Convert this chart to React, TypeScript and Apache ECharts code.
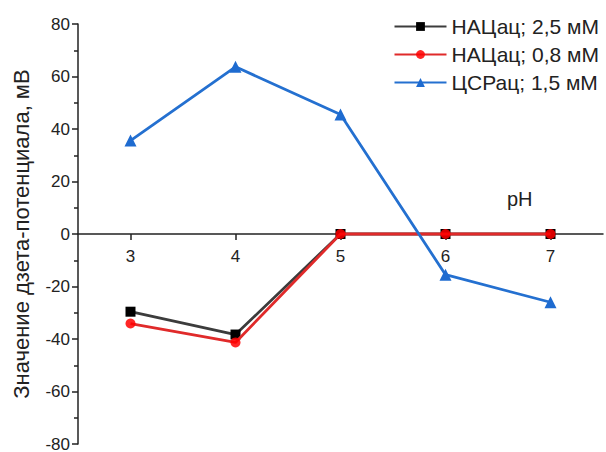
import React, { useEffect, useRef } from "react";
import * as echarts from "echarts";

const phValues = [3, 4, 5, 6, 7];
const seriesNames = ["НАЦац; 2,5 мМ", "НАЦац; 0,8 мМ", "ЦСРац; 1,5 мМ"];
const nac25 = [-29.6, -38.3, 0, 0, 0];
const nac08 = [-34.1, -41.3, 0, 0, 0];
const csr15 = [35.6, 63.7, 45.5, -15.5, -26];

const FONT = "Liberation Sans, Arial, sans-serif";
const GRID_TOP = 24;
const GRID_BOTTOM = 8;
const PLOT_H = 452 - GRID_TOP - GRID_BOTTOM;

export default function App() {
  const ref = useRef<HTMLDivElement>(null);
  useEffect(() => {
    if (!ref.current) return;
    const chart = echarts.init(ref.current, null, { renderer: "svg" });
    const mk = (vals: number[]) => phValues.map((x, i) => [x, vals[i]]);
    chart.setOption({
      animation: false,
      textStyle: { fontFamily: FONT },
      grid: { left: 78, right: 3, top: GRID_TOP, bottom: GRID_BOTTOM, containLabel: false, outerBoundsMode: "none" },
      legend: {
        orient: "vertical",
        right: 2,
        top: 11,
        itemWidth: 52,
        itemHeight: 11,
        itemGap: 7,
        textStyle: { fontSize: 21, color: "#222", fontFamily: FONT },
        data: seriesNames,
      },
      xAxis: {
        type: "value",
        min: 2.5,
        max: 7.5,
        position: "bottom",
        offset: -PLOT_H / 2,
        axisLine: { onZero: false, lineStyle: { color: "#222", width: 1.5 } },
        axisTick: {
          customValues: phValues,
          length: 6,
          lineStyle: { color: "#222", width: 1.5 },
        },
        axisLabel: {
          customValues: phValues,
          fontSize: 17,
          color: "#222",
          margin: 14,
        },
        splitLine: { show: false },
      },
      yAxis: {
        type: "value",
        min: -80,
        max: 80,
        interval: 20,
        name: "Значение дзета-потенциала, мВ",
        nameLocation: "middle",
        nameGap: 46,
        nameTextStyle: { fontSize: 22, color: "#222", fontFamily: FONT },
        axisLine: { show: true, lineStyle: { color: "#222", width: 1.5 } },
        axisTick: { show: true, length: 6, lineStyle: { color: "#222", width: 1.5 } },
        minorTick: { show: true, splitNumber: 2, length: 4, lineStyle: { color: "#222", width: 1.5 } },
        axisLabel: {
          fontSize: 17,
          color: "#222",
          margin: 8,
        },
        splitLine: { show: false },
      },
      graphic: [
        {
          type: "text",
          left: 507,
          top: 189,
          style: { text: "pH", fontSize: 20, fill: "#222", fontFamily: FONT },
        },
      ],
      series: [
        {
          name: seriesNames[0],
          type: "line",
          data: mk(nac25),
          symbol: "rect",
          symbolSize: 10,
          lineStyle: { color: "#3c3c3c", width: 2.8 },
          itemStyle: { color: "#000000" },
          z: 2,
        },
        {
          name: seriesNames[1],
          type: "line",
          data: mk(nac08),
          symbol: "circle",
          symbolSize: 10,
          lineStyle: { color: "#e02a2a", width: 2.8 },
          itemStyle: { color: "#ff0000", opacity: 0.85 },
          z: 3,
        },
        {
          name: seriesNames[2],
          type: "line",
          data: mk(csr15),
          symbol: "triangle",
          symbolSize: 12,
          lineStyle: { color: "#2470d0", width: 2.8 },
          itemStyle: { color: "#1e6bd0" },
          z: 4,
        },
      ],
    });
    return () => chart.dispose();
  }, []);
  return <div ref={ref} style={{ width: 606, height: 452, position: "absolute", left: 0, top: 0 }} />;
}
